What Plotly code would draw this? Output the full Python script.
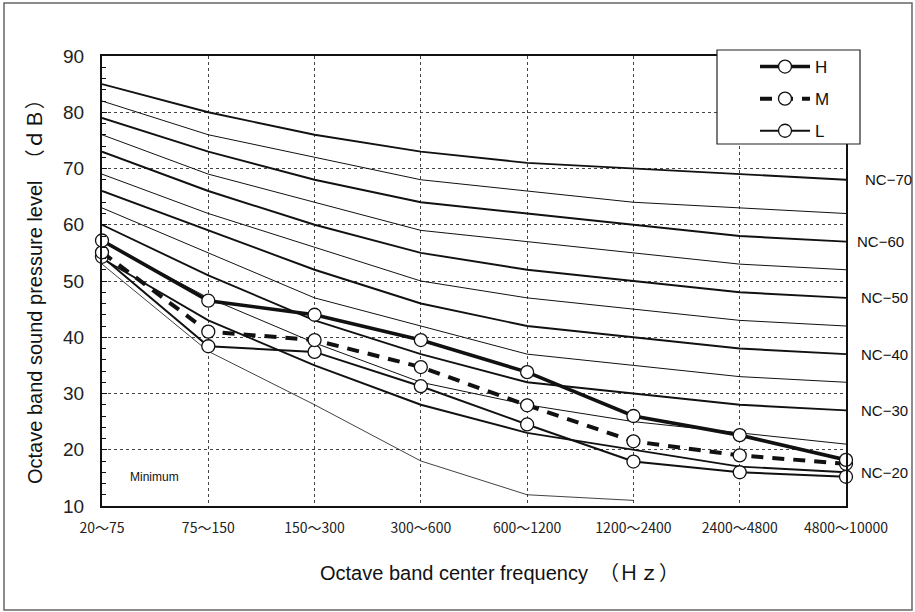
import plotly.graph_objects as go

# ---- data ----
bands = ["20～75", "75～150", "150～300", "300～600", "600～1200",
         "1200～2400", "2400～4800", "4800～10000"]

nc_names = ["NC-70", "NC-65", "NC-60", "NC-55", "NC-50", "NC-45",
            "NC-40", "NC-35", "NC-30", "NC-25", "NC-20"]
nc70 = [85, 80, 76, 73, 71, 70, 69, 68]
nc65 = [82, 76, 72, 68, 66, 64, 63, 62]
nc60 = [79, 73, 68, 64, 62, 60, 58, 57]
nc55 = [76, 69, 64, 59, 57, 55, 53, 52]
nc50 = [73, 66, 60, 55, 52, 50, 48, 47]
nc45 = [69, 62, 56, 50, 47, 45, 43, 42]
nc40 = [66, 59, 52, 46, 42, 40, 38, 37]
nc35 = [63, 55, 47, 42, 37, 35, 33, 32]
nc30 = [60, 51, 43, 37, 32, 30, 28, 27]
nc25 = [57, 47, 39, 32, 28, 25, 23, 21]
nc20 = [54, 43, 35, 28, 23, 20, 17, 16]
minimum = [53, 37.5, 28, 18, 12, 11, None, None]

H = [57.2, 46.5, 44.0, 39.5, 33.8, 26.0, 22.6, 18.2]
M = [55.1, 41.0, 39.5, 34.7, 27.9, 21.5, 19.0, 17.5]
L = [54.3, 38.4, 37.4, 31.3, 24.5, 17.9, 16.0, 15.2]

nc_curves = [nc70, nc65, nc60, nc55, nc50, nc45, nc40, nc35, nc30, nc25, nc20]
nc_labels = ["NC−70", "NC−60", "NC−50", "NC−40", "NC−30", "NC−20"]
nc_label_curves = [nc70, nc60, nc50, nc40, nc30, nc20]
nc_label_shift = [17, 9, 13, 13, 13, 13]

fig = go.Figure()

for name, vals in zip(nc_names, nc_curves):
    thick = int(name.split("-")[1]) % 10 == 0
    fig.add_trace(go.Scatter(
        x=bands, y=vals, mode="lines", name=name, showlegend=False,
        line=dict(color="#111111", width=1.9 if thick else 1.0),
        hoverinfo="skip"))

fig.add_trace(go.Scatter(
    x=bands, y=minimum, mode="lines", name="Minimum", showlegend=False,
    line=dict(color="#111111", width=0.8), hoverinfo="skip"))

marker = dict(symbol="circle", size=13, color="white",
              line=dict(color="#111111", width=1.3))

fig.add_trace(go.Scatter(
    x=bands, y=L, mode="lines+markers", name="L", legendgroup="L",
    legendrank=3,
    line=dict(color="#111111", width=2.0), marker=marker, cliponaxis=False))
fig.add_trace(go.Scatter(
    x=bands, y=M, mode="lines+markers", name="M", legendgroup="M",
    legendrank=2,
    line=dict(color="#111111", width=4.0, dash="12px,9px"), marker=marker,
    cliponaxis=False))
fig.add_trace(go.Scatter(
    x=bands, y=H, mode="lines+markers", name="H", legendgroup="H",
    legendrank=1,
    line=dict(color="#111111", width=3.6), marker=marker, cliponaxis=False))

# plot-area geometry (pixels) used to position decoration in paper units
W, HGT = 915, 612
PL, PR, PT, PB = 102, 846, 56, 506
pw, ph = PR - PL, PB - PT


def px(x):
    return (x - PL) / pw


def py(y):
    return (PB - y) / ph


annotations = []
for lab, vals, sh in zip(nc_labels, nc_label_curves, nc_label_shift):
    annotations.append(dict(
        x=7, y=vals[-1], xref="x", yref="y", text=lab, showarrow=False,
        xanchor="left", yanchor="middle", xshift=sh,
        font=dict(family="Liberation Sans, Arial", size=15, color="#111111")))

annotations.append(dict(
    x=0.24, y=15.2, xref="x", yref="y", text="Minimum", showarrow=False,
    xanchor="left", yanchor="middle",
    font=dict(family="Liberation Sans, Arial", size=12, color="#111111")))

annotations.append(dict(
    x=px(499), y=py(573), xref="paper", yref="paper",
    text="Octave band center frequency  （Ｈｚ）", showarrow=False,
    xanchor="center", yanchor="middle",
    font=dict(family="Liberation Sans, Noto Sans CJK JP", size=20,
              color="#111111")))

annotations.append(dict(
    x=px(35), y=py(287), xref="paper", yref="paper", textangle=-90,
    text="Octave band sound pressure level  （ｄＢ）", showarrow=False,
    xanchor="center", yanchor="middle",
    font=dict(family="Liberation Sans, Noto Sans CJK JP", size=20,
              color="#111111")))

shapes = [
    dict(type="rect", xref="paper", yref="paper",
         x0=px(4), x1=px(912), y0=py(610), y1=py(3),
         line=dict(color="#666666", width=1.5), layer="below"),
    # legend frame
    dict(type="rect", xref="paper", yref="paper",
         x0=px(717), x1=px(860), y0=py(144), y1=py(50),
         line=dict(color="#222222", width=1.2), fillcolor="white",
         layer="above"),
]

fig.update_layout(
    width=W, height=HGT,
    margin=dict(l=PL, r=W - PR, t=PT, b=HGT - PB, pad=0),
    paper_bgcolor="white", plot_bgcolor="white",
    showlegend=True,
    legend=dict(
        x=px(755), y=py(49), xanchor="left", yanchor="top",
        bgcolor="rgba(0,0,0,0)", borderwidth=0,
        font=dict(family="Liberation Sans, Arial", size=17, color="#111111"),
        traceorder="grouped", tracegroupgap=7,
        itemwidth=50),
    annotations=annotations,
    shapes=shapes,
    xaxis=dict(
        type="category", range=[0, 7], showgrid=True,
        gridcolor="#444444", griddash="dot", gridwidth=1,
        showline=True, linecolor="#111111", linewidth=2, mirror=True,
        ticks="", ticklabelstandoff=8,
        tickfont=dict(family="Noto Sans CJK JP", size=14, color="#222222"),
        zeroline=False),
    yaxis=dict(
        range=[10, 90], dtick=10, showgrid=True,
        gridcolor="#444444", griddash="dot", gridwidth=1,
        showline=True, linecolor="#111111", linewidth=2, mirror=True,
        ticks="inside", ticklen=5, tickcolor="#111111",
        ticklabelstandoff=12,
        minor=dict(dtick=2, ticks="inside", ticklen=4, tickcolor="#111111",
                   showgrid=False),
        tickfont=dict(family="Liberation Sans, Arial", size=19,
                      color="#222222"),
        zeroline=False),
)

fig.write_html("out.html",
               config={"displayModeBar": False},
               post_script="document.body.style.margin='0px';"
                           "document.body.style.padding='0px';")
